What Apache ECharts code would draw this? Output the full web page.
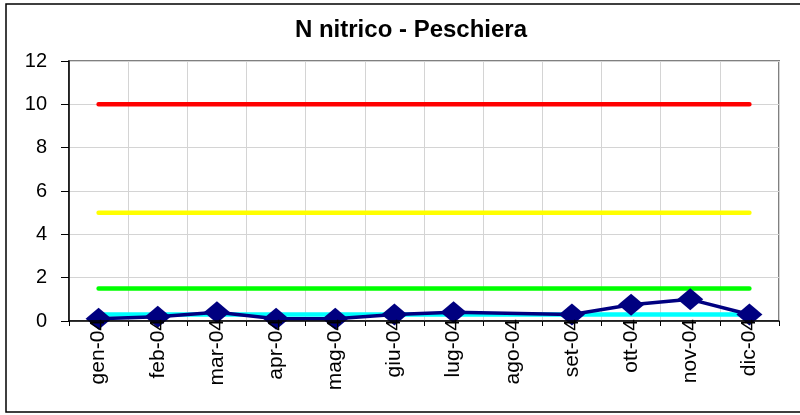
<!DOCTYPE html>
<html>
<head>
<meta charset="utf-8">
<script src="https://cdn.jsdelivr.net/npm/echarts@6/dist/echarts.min.js"></script>
<style>
html,body{margin:0;padding:0;background:#fff;}
#chart{width:800px;height:415px;}
</style>
</head>
<body>
<div id="chart"></div>
<script>
const categories = ['gen-04','feb-04','mar-04','apr-04','mag-04','giu-04','lug-04','ago-04','set-04','ott-04','nov-04','dic-04'];
const nNitrico = [0.1, 0.2, 0.4, 0.1, 0.1, 0.3, 0.4, null, 0.3, 0.75, 1.0, 0.3];
const limitRed = [10,10,10,10,10,10,10,10,10,10,10,10];
const limitYellow = [5,5,5,5,5,5,5,5,5,5,5,5];
const limitGreen = [1.5,1.5,1.5,1.5,1.5,1.5,1.5,1.5,1.5,1.5,1.5,1.5];
const limitCyan = [0.3,0.3,0.3,0.3,0.3,0.3,0.3,0.3,0.3,0.3,0.3,0.3];
const yTicks = {min: 0, max: 12, interval: 2};
const titleText = 'N nitrico - Peschiera';

const chart = echarts.init(document.getElementById('chart'), null, {renderer: 'canvas'});
const font = 'Liberation Sans, Arial, sans-serif';
function limitSeries(data, color) {
  return {
    type: 'line', data: data, symbol: 'none', silent: true,
    lineStyle: {color: color, width: 4.5, cap: 'round'},
    z: 2
  };
}
chart.setOption({
  animation: false,
  backgroundColor: '#fff',
  title: {
    text: titleText, left: 406, top: 13, textAlign: 'center',
    textStyle: {fontFamily: font, fontSize: 24, fontWeight: 'bold', color: '#000'}
  },
  graphic: [{
    type: 'rect', shape: {x: 6, y: 4, width: 820, height: 408},
    style: {fill: 'none', stroke: '#000', lineWidth: 1.5}, silent: true, z: -1
  }],
  grid: {left: 69, right: 21, top: 61, bottom: 94, show: true, borderColor: '#808080', borderWidth: 2, backgroundColor: 'transparent'},
  xAxis: [{
    type: 'category', data: categories, boundaryGap: true, z: 10,
    axisLine: {lineStyle: {color: '#000', width: 1.5}},
    axisTick: {show: true, length: 5, lineStyle: {color: '#000'}},
    splitLine: {show: false},
    axisLabel: {rotate: 90, margin: -2, interval: 0, fontFamily: font, fontSize: 21, color: '#000'}
  }, {
    type: 'category', data: categories, boundaryGap: true, position: 'bottom', z: 0,
    axisLine: {show: false}, axisTick: {show: false}, axisLabel: {show: false},
    splitLine: {show: true, lineStyle: {color: '#d4d4d4', width: 1}}
  }],
  yAxis: {
    type: 'value', min: yTicks.min, max: yTicks.max, interval: yTicks.interval,
    axisLine: {show: true, lineStyle: {color: '#000', width: 1.5}},
    axisTick: {show: true, length: 8, lineStyle: {color: '#000'}},
    splitLine: {show: true, lineStyle: {color: '#d4d4d4', width: 1}},
    axisLabel: {margin: 22, fontFamily: font, fontSize: 20, color: '#000'}
  },
  series: [
    limitSeries(limitRed, '#ff0000'),
    limitSeries(limitYellow, '#ffff00'),
    limitSeries(limitGreen, '#00ff00'),
    limitSeries(limitCyan, '#00ffff'),
    {
      type: 'line', data: nNitrico, connectNulls: true,
      symbol: 'diamond', symbolSize: [26, 22], showAllSymbol: true,
      itemStyle: {color: '#000080'},
      lineStyle: {color: '#000080', width: 3.5},
      z: 3
    }
  ]
});
</script>
</body>
</html>
